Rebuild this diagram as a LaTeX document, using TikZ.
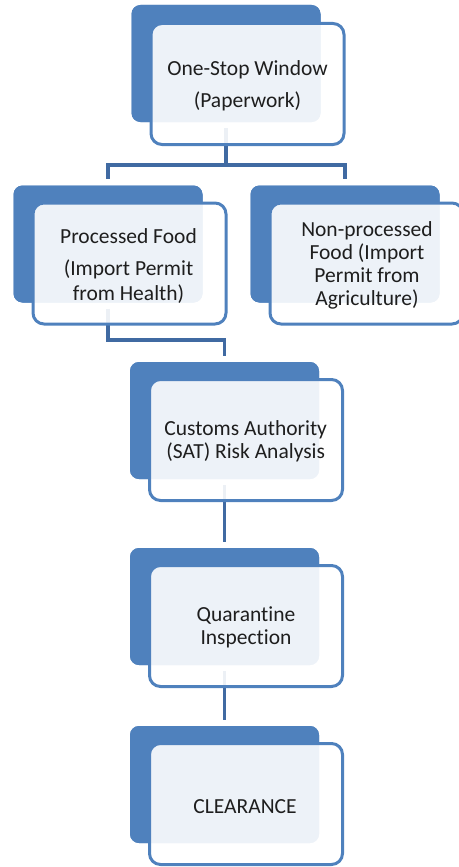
\documentclass[tikz,border=0pt]{standalone}
\usepackage{fontspec}
\setmainfont{Carlito}[Ligatures=NoCommon]
\definecolor{darkbl}{RGB}{79,129,189}
\definecolor{connbl}{RGB}{64,106,162}
\definecolor{txtc}{RGB}{30,30,30}
\tikzset{
  backbox/.style={rectangle, rounded corners=9pt, fill=darkbl, draw=none,
    minimum width=189pt, minimum height=117pt, inner sep=0pt},
  frontbox/.style={rectangle, rounded corners=11pt, fill=white, fill opacity=0.9,
    draw=darkbl, draw opacity=1, line width=3pt,
    minimum width=193pt, minimum height=121pt, inner sep=0pt},
  boxtext/.style={align=center, text=txtc, inner sep=0pt,
    font=\fontsize{21.5}{23}\selectfont},
  conn/.style={draw=connbl, line width=3.5pt, shorten <=6pt, shorten >=6pt}
}
\begin{document}
\begin{tikzpicture}[x=1pt, y=-1pt]
\useasboundingbox (0,0) rectangle (458,867);
% back boxes
\node[backbox] (d1) at (226,63.5) {};
\node[backbox] (d2) at (108,244) {};
\node[backbox] (d3) at (345,244) {};
\node[backbox] (d4) at (224.5,420.5) {};
\node[backbox] (d5) at (224.5,606.5) {};
\node[backbox] (d6) at (224.5,784.5) {};
% connectors
\coordinate (h1) at (0,165);
\coordinate (h2) at (0,340);
\draw[conn] (d1.south) -- (d1.south |- h1) -| (d2.north);
\draw[conn, shorten <=0pt] (d1.south |- h1) -| (d3.north);
\draw[conn] (d2.south) -- (d2.south |- h2) -| (d4.north);
\draw[conn] (d4.south) -- (d5.north);
\draw[conn] (d5.south) -- (d6.north);
% redraw back boxes above connectors
\node[backbox] at (d1) {};
\node[backbox] at (d2) {};
\node[backbox] at (d3) {};
\node[backbox] at (d4) {};
\node[backbox] at (d5) {};
\node[backbox] at (d6) {};
% front boxes
\node[frontbox] (f1) at (247.5,84) {};
\node[frontbox] (f2) at (129.5,263.5) {};
\node[frontbox] (f3) at (366.5,263.5) {};
\node[frontbox] (f4) at (246,440) {};
\node[frontbox] (f5) at (246,626) {};
\node[frontbox] (f6) at (246,804) {};
% texts
\node[boxtext] (t1) at (247.5,85.5) {One-Stop Window\\[9pt](Paperwork)};
\node[boxtext] (t2) at (128.5,266) {Processed Food\\[9pt](Import Permit\\[2pt]from Health)};
\node[boxtext] (t3) at (367,265) {Non-processed\\Food (Import\\Permit from\\Agriculture)};
\node[boxtext] (t4) at (245.7,441) {Customs Authority\\(SAT) Risk Analysis};
\node[boxtext] (t5) at (246,627) {Quarantine\\Inspection};
\node[boxtext] (t6) at (245,806.5) {CLEARANCE};
\end{tikzpicture}
\end{document}
